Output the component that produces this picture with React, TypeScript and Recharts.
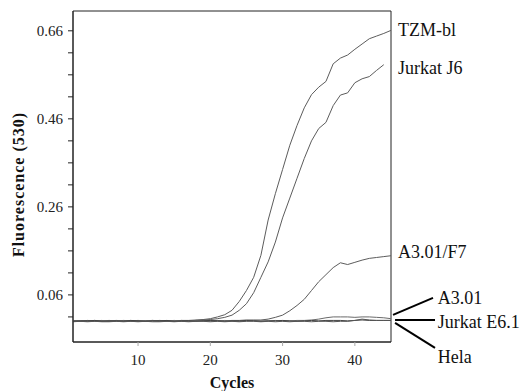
import React from 'react';
import { LineChart, Line, XAxis, YAxis, ReferenceArea, ReferenceLine, ReferenceDot, Label } from 'recharts';

const cycles = [1,2,3,4,5,6,7,8,9,10,11,12,13,14,15,16,17,18,19,20,21,22,23,24,25,26,27,28,29,30,31,32,33,34,35,36,37,38,39,40,41,42,43,44,45];

const tzmBl = [0.001,0.000,0.002,0.001,0.000,0.001,0.002,0.001,0.000,0.001,0.001,0.002,0.001,0.000,0.001,0.002,0.002,0.003,0.004,0.006,0.010,0.015,0.025,0.045,0.070,0.100,0.150,0.230,0.290,0.345,0.400,0.445,0.485,0.515,0.532,0.545,0.585,0.598,0.605,0.618,0.630,0.642,0.648,0.654,0.661];
const jurkatJ6 = [0.000,0.001,0.000,0.001,0.002,0.000,0.001,0.001,0.002,0.000,0.001,0.002,0.001,0.001,0.000,0.002,0.001,0.002,0.003,0.004,0.006,0.009,0.014,0.025,0.040,0.065,0.100,0.135,0.180,0.235,0.280,0.325,0.370,0.410,0.438,0.452,0.490,0.514,0.519,0.542,0.551,0.556,0.570,0.583,null];
const a301F7 = [0.001,0.000,0.001,0.002,0.001,0.000,0.001,0.002,0.001,0.001,0.000,0.001,0.002,0.001,0.001,0.000,0.001,0.002,0.001,0.001,0.002,0.001,0.002,0.002,0.003,0.003,0.003,0.005,0.009,0.014,0.024,0.036,0.050,0.070,0.090,0.106,0.122,0.133,0.129,0.134,0.139,0.143,0.145,0.147,0.149];
const a301 = [0.002,0.001,0.001,0.000,0.001,0.002,0.001,0.000,0.001,0.002,0.001,0.001,0.000,0.001,0.002,0.001,0.000,0.001,0.002,0.001,0.001,0.002,0.001,0.000,0.001,0.002,0.001,0.001,0.002,0.001,0.001,0.002,0.002,0.003,0.005,0.008,0.010,0.010,0.010,0.009,0.010,0.010,0.009,0.008,0.006];
const jurkatE61 = [0.000,0.001,0.001,0.002,0.000,0.001,0.001,0.000,0.002,0.001,0.000,0.001,0.001,0.002,0.000,0.001,0.001,0.000,0.001,0.002,0.001,0.000,0.001,0.001,0.002,0.001,0.000,0.001,0.001,0.002,0.001,0.000,0.001,0.002,0.001,0.002,0.002,0.002,0.001,0.002,0.003,0.002,0.002,0.002,0.002];
const hela = [-0.001,0.000,-0.001,0.000,-0.001,-0.001,0.000,-0.001,0.000,-0.001,0.000,-0.001,-0.001,0.000,-0.001,0.000,-0.001,0.000,0.000,-0.001,0.000,-0.001,0.000,-0.001,0.000,0.000,-0.001,0.000,-0.001,0.000,-0.001,0.000,0.000,-0.001,0.000,0.000,-0.001,0.000,0.000,0.002,0.005,0.003,0.002,0.002,0.002];

const yTicks = [0.01,0.06,0.11,0.16,0.21,0.26,0.31,0.36,0.41,0.46,0.51,0.56,0.61,0.66];
const yLabelled = [0.06,0.26,0.46,0.66];
const xTicks = [10,20,30,40];

const endLabels = [
  { name: 'TZM-bl', x: 45, y: 0.662 },
  { name: 'Jurkat J6', x: 45, y: 0.576 },
  { name: 'A3.01/F7', x: 45, y: 0.158 },
];
const bracketLabels = [
  { name: 'A3.01', x: 50.5, y: 0.0532 },
  { name: 'Jurkat E6.1', x: 50.5, y: -0.0014 },
  { name: 'Hela', x: 50.5, y: -0.081 },
];
const bracketLines = [
  [{ x: 45.28, y: 0.0145 }, { x: 50.81, y: 0.0532 }],
  [{ x: 45.56, y: 0.0032 }, { x: 51.09, y: 0.0032 }],
  [{ x: 45.56, y: -0.0036 }, { x: 51.09, y: -0.0605 }],
];

const data = cycles.map((c, i) => ({
  cycle: c,
  tzm: tzmBl[i],
  j6: jurkatJ6[i],
  f7: a301F7[i],
  a301: a301[i],
  e61: jurkatE61[i],
  hela: hela[i],
}));

const FONT = '"Liberation Serif", "Times New Roman", serif';
const Y_DOMAIN: [number, number] = [-0.047, 0.705];
const X_DOMAIN: [number, number] = [1, 45];

const series = [
  { key: 'tzm', color: '#5c5c5c' },
  { key: 'j6', color: '#5c5c5c' },
  { key: 'f7', color: '#5c5c5c' },
  { key: 'a301', color: '#6a6a6a' },
  { key: 'e61', color: '#444' },
  { key: 'hela', color: '#555' },
];

export default function App() {
  return (
    <div style={{ position: 'absolute', left: 0, top: 0, background: '#fff', fontFamily: FONT }}>
      <LineChart width={527} height={391} data={data} margin={{ top: 11, right: 136, bottom: 19, left: 0 }} style={{ fontFamily: FONT }}>
        <XAxis
          type="number"
          dataKey="cycle"
          domain={X_DOMAIN}
          allowDataOverflow
          ticks={xTicks}
          tickSize={4}
          tickMargin={8}
          height={30}
          axisLine={{ stroke: '#222', strokeWidth: 1 }}
          tickLine={{ stroke: '#aaa' }}
          tick={{ fill: '#222', fontSize: 15, fontFamily: FONT, style: { fontFamily: FONT } }}
        >
          <Label
            content={({ viewBox }: any) => (
              <text
                x={viewBox.x + viewBox.width / 2}
                y={viewBox.y + 46}
                textAnchor="middle"
                fontFamily={FONT}
                fontWeight="bold"
                fontSize={16}
                fill="#111"
              >
                Cycles
              </text>
            )}
          />
        </XAxis>
        <YAxis
          type="number"
          domain={Y_DOMAIN}
          allowDataOverflow
          ticks={yTicks}
          width={73}
          tickSize={5}
          tickMargin={5}
          interval={0}
          tickFormatter={(v: number) => (yLabelled.some((t) => Math.abs(t - v) < 1e-6) ? v.toFixed(2) : '')}
          axisLine={{ stroke: '#222', strokeWidth: 1 }}
          tickLine={{ stroke: '#222' }}
          tick={{ fill: '#222', fontSize: 15, fontFamily: FONT, style: { fontFamily: FONT } }}
        >
          <Label
            content={({ viewBox }: any) => {
              const cx = 18;
              const cy = viewBox.y + viewBox.height / 2 + 8;
              return (
                <text
                  x={cx}
                  y={cy}
                  transform={`rotate(-90, ${cx}, ${cy})`}
                  textAnchor="middle"
                  dominantBaseline="central"
                  fontFamily={FONT}
                  fontWeight="bold"
                  fontSize={16}
                  letterSpacing={1}
                  fill="#111"
                >
                  Fluorescence (530)
                </text>
              );
            }}
          />
        </YAxis>
        <ReferenceArea x1={X_DOMAIN[0]} x2={X_DOMAIN[1]} y1={Y_DOMAIN[0]} y2={Y_DOMAIN[1]} fill="none" stroke="#222" strokeWidth={1} ifOverflow="visible" />
        {series.map((s) => (
          <Line
            key={s.key}
            type="linear"
            dataKey={s.key}
            stroke={s.color}
            strokeWidth={1}
            dot={false}
            activeDot={false}
            isAnimationActive={false}
          />
        ))}
        {bracketLines.map((seg, i) => (
          <ReferenceLine key={'bl' + i} segment={seg} stroke="#000" strokeWidth={2} ifOverflow="visible" />
        ))}
        {[...endLabels, ...bracketLabels].map((l) => (
          <ReferenceDot
            key={l.name}
            x={l.x}
            y={l.y}
            r={1}
            fill="none"
            stroke="none"
            ifOverflow="visible"
            label={{ value: l.name, position: 'right', offset: 6, fill: '#111', fontSize: 18, fontFamily: FONT, style: { fontFamily: FONT } }}
          />
        ))}
      </LineChart>
    </div>
  );
}
